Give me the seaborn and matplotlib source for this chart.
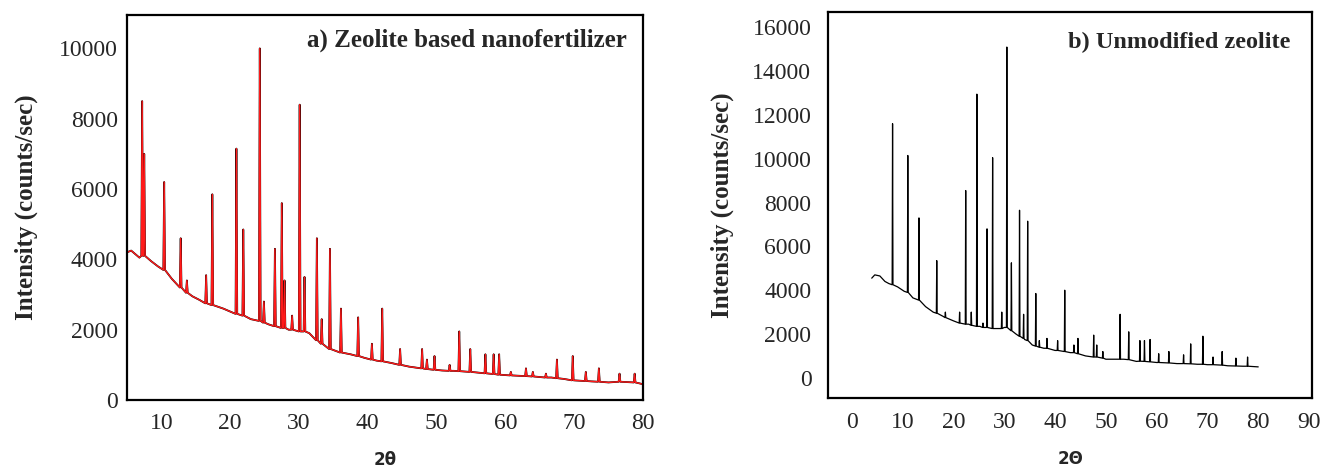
import matplotlib
matplotlib.use("Agg")
import matplotlib.pyplot as plt
import numpy as np
import pandas as pd
import seaborn as sns

# ---- a) zeolite based nanofertilizer: baseline ----
base_a_x = [5, 5.6, 6.2, 6.8, 8.5, 9.5, 11.5, 12.2, 14.5, 15.5, 19, 20.2, 23, 25.6,
            28.5, 31.5, 32.0, 35.3, 37.5, 39.5, 41.3, 43.5, 46, 50.8, 52.5, 56,
            62, 66.7, 68.5, 70.8, 72.5, 75, 77.7, 80]
base_a_y = [4200, 4250, 4150, 4050, 3950, 3800, 3450, 3300, 2950, 2850, 2600, 2500,
            2300, 2150, 2000, 1900, 1800, 1400, 1300, 1200, 1120, 1050, 950, 840,
            830, 780, 690, 640, 600, 550, 530, 500, 510, 450]
# peaks: position, top, foot
peak_a_x = [7.2, 7.5, 10.4, 12.8, 13.7, 16.5, 17.4, 20.9, 21.9, 24.3, 24.9, 26.5,
            27.5, 27.9, 29.0, 30.1, 30.8, 32.6, 33.3, 34.5, 36.1, 38.6, 40.6, 42.1,
            44.7, 47.9, 48.6, 49.7, 51.9, 53.3, 54.9, 57.1, 58.3, 59.1, 60.8, 63.0,
            64.0, 65.9, 67.5, 69.8, 71.7, 73.6, 76.6, 78.8]
peak_a_top = [8500, 7000, 6200, 4600, 3400, 3550, 5850, 7150, 4850, 10000, 2800, 4300,
              5600, 3400, 2400, 8400, 3500, 4600, 2300, 4300, 2600, 2350, 1600, 2600,
              1450, 1450, 1150, 1250, 1000, 1950, 1450, 1300, 1300, 1300, 800, 900,
              800, 750, 1150, 1250, 800, 900, 750, 750]
peak_a_foot = [4100, 4100, 3700, 3200, 3050, 2750, 2700, 2450, 2400, 2250, 2200, 2100,
               2050, 2050, 2000, 1950, 1950, 1700, 1600, 1450, 1350, 1250, 1150, 1100,
               1000, 900, 880, 860, 830, 820, 800, 760, 740, 720, 700, 680,
               670, 640, 620, 560, 540, 520, 520, 500]

# ---- b) unmodified zeolite ----
base_b_x = [3.9, 4.5, 5.5, 6.5, 7.3, 9.0, 10.3, 12.0, 14.5, 16.0, 18.0, 20.0, 23.0,
            25.2, 28.3, 30.0, 32.3, 34.0, 35.5, 37.8, 40.0, 43.0, 46.0, 50.0, 53.5,
            56.0, 60.0, 64.0, 68.0, 70.0, 74.0, 77.0, 80.0]
base_b_y = [4550, 4700, 4650, 4400, 4300, 4150, 3950, 3650, 3250, 3000, 2800, 2600,
            2450, 2350, 2250, 2300, 2000, 1750, 1500, 1350, 1250, 1150, 1000, 850,
            850, 750, 700, 650, 620, 600, 550, 530, 500]
peak_b_x = [8.0, 11.0, 13.2, 16.7, 18.4, 21.2, 22.4, 23.5, 24.6, 25.8, 26.6, 27.7,
            29.5, 30.5, 31.4, 33.0, 33.8, 34.6, 36.2, 36.9, 38.4, 40.5, 41.9, 43.7,
            44.5, 47.6, 48.2, 49.4, 52.8, 54.5, 56.7, 57.6, 58.7, 60.4, 62.4, 65.3,
            66.7, 69.1, 71.1, 72.9, 75.6, 77.9]
peak_b_top = [11600, 10150, 7300, 5350, 3000, 3000, 8550, 3000, 12950, 2500, 6800, 10050,
              3000, 15100, 5250, 7650, 2900, 7150, 3850, 1700, 1800, 1700, 4000, 1500,
              1800, 1950, 1500, 1200, 2900, 2100, 1700, 1700, 1750, 1100, 1200, 1050,
              1550, 1900, 950, 1200, 900, 950]
peak_b_foot = [4250, 3900, 3550, 2950, 2750, 2500, 2450, 2400, 2350, 2300, 2300, 2250,
               2250, 2300, 2150, 1900, 1800, 1700, 1450, 1400, 1350, 1250, 1200, 1150,
               1100, 950, 950, 900, 850, 830, 760, 750, 730, 700, 680, 650,
               640, 620, 600, 580, 540, 530]


def build_trace(bx, by, px, ptop, pfoot, half):
    xs = list(bx)
    ys = list(by)
    for x, t, f in zip(px, ptop, pfoot):
        xs += [x - half, x, x + half]
        ys += [f, t, f]
    df = pd.DataFrame({"two_theta": xs, "intensity": ys})
    return df.sort_values("two_theta").reset_index(drop=True)


df_a = build_trace(base_a_x, base_a_y, peak_a_x, peak_a_top, peak_a_foot, 0.12)
df_b = build_trace(base_b_x, base_b_y, peak_b_x, peak_b_top, peak_b_foot, 0.08)

sns.set_style("white")
plt.rcParams["font.family"] = ["Liberation Serif", "DejaVu Serif"]

fig = plt.figure(figsize=(13.33, 4.72), dpi=100)
ax1 = fig.add_axes([0.0953, 0.1525, 0.387, 0.8157])
ax2 = fig.add_axes([0.6212, 0.1568, 0.3631, 0.8178])

# panel a: black trace under a red one
sns.lineplot(data=df_a, x="two_theta", y="intensity", ax=ax1, color="black",
             linewidth=1.3, estimator=None, sort=False)
sns.lineplot(data=df_a, x="two_theta", y="intensity", ax=ax1, color="#ff1a1a",
             linewidth=1.0, estimator=None, sort=False)
ax1.set_xlim(5, 80)
ax1.set_ylim(0, 10950)
ax1.set_xticks(range(10, 81, 10))
ax1.set_yticks(range(0, 10001, 2000))
ax1.tick_params(axis="both", labelsize=17, pad=9)
ax1.tick_params(axis="y", length=3, width=2, color="#1f3864", direction="inout", pad=5)
ax1.tick_params(axis="x", length=0)
ax1.set_xlabel("2θ", fontsize=12, fontweight="bold", family="DejaVu Sans")
ax1.xaxis.set_label_coords(0.5, -0.132)
ax1.set_ylabel("Intensity (counts/sec)", fontsize=18, fontweight="bold")
ax1.yaxis.set_label_coords(-0.172, 0.5)
ax1.text(0.969, 0.935, "a) Zeolite based nanofertilizer", transform=ax1.transAxes,
         ha="right", va="center", fontsize=18, fontweight="bold")

# panel b
sns.lineplot(data=df_b, x="two_theta", y="intensity", ax=ax2, color="black",
             linewidth=0.9, estimator=None, sort=False)
ax2.set_xlim(-4.7, 90.6)
ax2.set_ylim(-920, 16700)
ax2.set_xticks(range(0, 91, 10))
ax2.set_yticks(range(0, 16001, 2000))
ax2.tick_params(axis="both", labelsize=17, length=0)
ax2.tick_params(axis="x", pad=10)
ax2.tick_params(axis="y", pad=12)
ax2.set_xlabel("2Θ", fontsize=12, fontweight="bold", family="DejaVu Sans")
ax2.xaxis.set_label_coords(0.5, -0.136)
ax2.set_ylabel("Intensity (counts/sec)", fontsize=18, fontweight="bold")
ax2.yaxis.set_label_coords(-0.195, 0.5)
ax2.text(0.955, 0.922, "b) Unmodified zeolite", transform=ax2.transAxes,
         ha="right", va="center", fontsize=17.5, fontweight="bold")

for ax in (ax1, ax2):
    for sp in ax.spines.values():
        sp.set_visible(True)
        sp.set_color("black")
        sp.set_linewidth(1.6)

fig.savefig("out.png", dpi=100)
